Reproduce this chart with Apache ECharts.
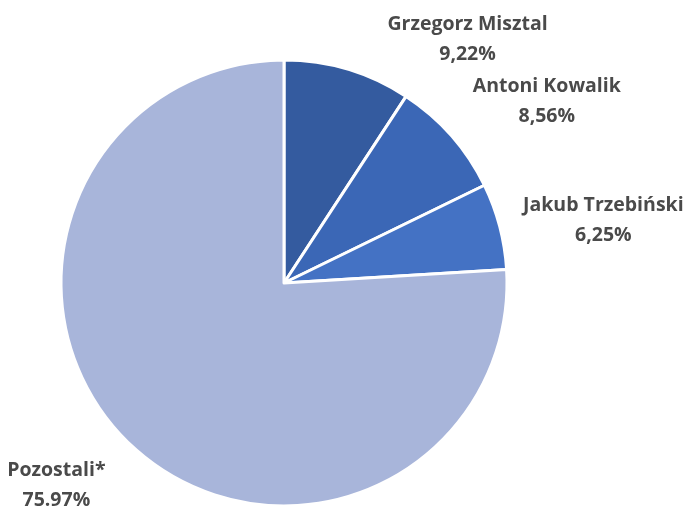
<!DOCTYPE html>
<html><head><meta charset="utf-8">
<script src="https://cdn.jsdelivr.net/npm/echarts@6/dist/echarts.min.js"></script>
<style>html,body{margin:0;padding:0;background:#fff}#c{width:688px;height:510px}</style>
</head><body><div id="c"></div>
<script>
var names = ['Grzegorz Misztal', 'Antoni Kowalik', 'Jakub Trzebiński', 'Pozostali*'];
var values = [9.22, 8.56, 6.25, 75.97];
var valueLabels = ['9,22%', '8,56%', '6,25%', '75.97%'];
var colors = ['#345B9F', '#3B67B6', '#4472C4', '#A8B5DA'];

var chart = echarts.init(document.getElementById('c'), null, {renderer: 'canvas'});
var data = names.map(function (n, i) {
  return {name: n, value: values[i], itemStyle: {color: colors[i]}};
});
chart.setOption({
  animation: false,
  series: [{
    type: 'pie',
    center: [284, 283],
    radius: [0, 223],
    startAngle: 90,
    clockwise: true,
    data: data,
    itemStyle: {borderColor: '#ffffff', borderWidth: 3},
    label: {
      show: true,
      position: 'outside',
      formatter: function (p) { return p.name + '\n' + valueLabels[p.dataIndex]; },
      fontFamily: '"Open Sans", Lato, sans-serif',
      fontWeight: 'bold',
      fontSize: 19.5,
      lineHeight: 30,
      color: '#4a4a4a',
      align: 'center'
    },
    labelLine: {show: false, length: 10, length2: 0},
    labelLayout: function (p) {
      var offs = [[112, -20], [83, -27], [89, -3], [-63, 33]];
      var o = offs[p.dataIndex];
      return {align: 'center', dx: o[0], dy: o[1]};
    }
  }]
});
</script></body></html>
